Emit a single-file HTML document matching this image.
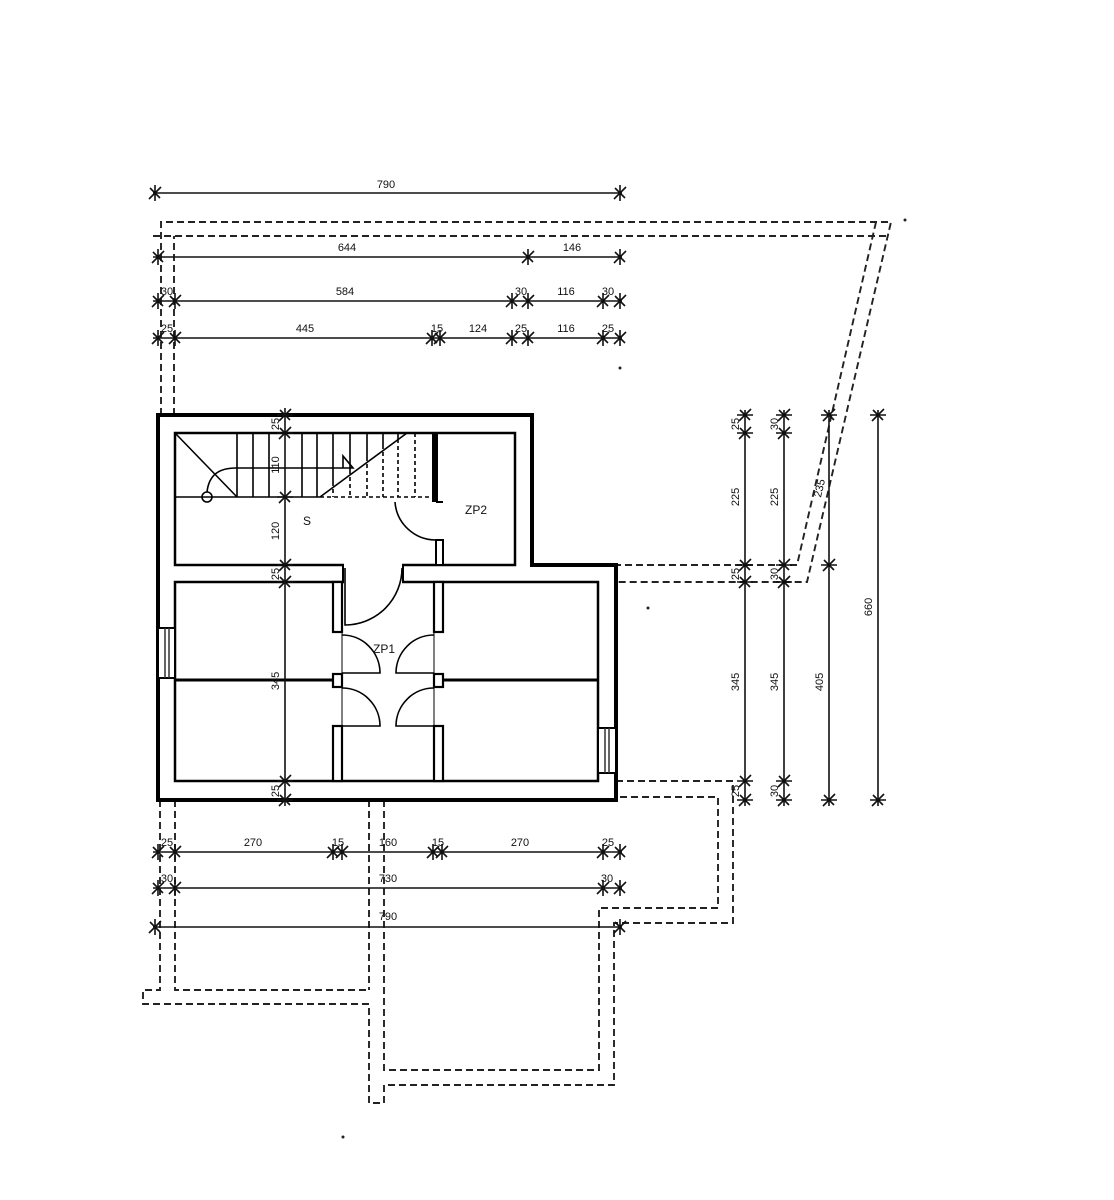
<!DOCTYPE html>
<html><head><meta charset="utf-8"><style>
html,body{margin:0;padding:0;background:#fff;}
svg{display:block;}
text{font-family:"Liberation Sans",sans-serif;font-size:11px;fill:#111;}
</style></head><body>
<svg width="1114" height="1200" viewBox="0 0 1114 1200" xmlns="http://www.w3.org/2000/svg">
<defs>
<symbol id="t" overflow="visible"><path d="M0,-8V8M-6,6L6,-6M-5,-5L5,5" stroke="#111" stroke-width="1.6" fill="none"/></symbol>
<symbol id="v" overflow="visible"><path d="M-8,0H8M-6,6L6,-6M-5,-5L5,5" stroke="#111" stroke-width="1.6" fill="none"/></symbol>
</defs>
<rect width="1114" height="1200" fill="#fff"/>

<!-- dashed outlines -->
<g fill="none" stroke="#222" stroke-width="1.9" stroke-dasharray="7,4">
<path d="M161,415V222H891L807,582H617"/>
<path d="M153,236H888"/>
<path d="M174,415V236"/>
<path d="M876,222L797,565H617"/>
<path d="M160,800V990H143V1004H369V1103H384V1085H614V923H733V781H617"/>
<path d="M175,800V990H369"/>
<path d="M384,800V1070H599V908H718V797H617"/>
<path d="M369,800V990"/>
</g>

<!-- dimension lines -->
<g stroke="#111" stroke-width="1.6" fill="none">
<path d="M153,193H622"/>
<path d="M153,257H622"/>
<path d="M153,301H622"/>
<path d="M153,338H622"/>
<path d="M153,852H622"/>
<path d="M153,888H622"/>
<path d="M153,927H622"/>
<path d="M745,410V806"/>
<path d="M784,410V806"/>
<path d="M829,410V806"/>
<path d="M878,410V806"/>
</g>
<g>
<use href="#t" x="155" y="193"/><use href="#t" x="620" y="193"/>
<use href="#t" x="158" y="257"/><use href="#t" x="528" y="257"/><use href="#t" x="620" y="257"/>
<use href="#t" x="158" y="301"/><use href="#t" x="175" y="301"/><use href="#t" x="512" y="301"/><use href="#t" x="528" y="301"/><use href="#t" x="603" y="301"/><use href="#t" x="620" y="301"/>
<use href="#t" x="158" y="338"/><use href="#t" x="175" y="338"/><use href="#t" x="432" y="338"/><use href="#t" x="440" y="338"/><use href="#t" x="512" y="338"/><use href="#t" x="528" y="338"/><use href="#t" x="603" y="338"/><use href="#t" x="620" y="338"/>
<use href="#t" x="158" y="852"/><use href="#t" x="175" y="852"/><use href="#t" x="333" y="852"/><use href="#t" x="342" y="852"/><use href="#t" x="433" y="852"/><use href="#t" x="442" y="852"/><use href="#t" x="603" y="852"/><use href="#t" x="620" y="852"/>
<use href="#t" x="158" y="888"/><use href="#t" x="175" y="888"/><use href="#t" x="603" y="888"/><use href="#t" x="620" y="888"/>
<use href="#t" x="155" y="927"/><use href="#t" x="620" y="927"/>
<use href="#v" x="745" y="415"/><use href="#v" x="745" y="433"/><use href="#v" x="745" y="565"/><use href="#v" x="745" y="582"/><use href="#v" x="745" y="781"/><use href="#v" x="745" y="800"/>
<use href="#v" x="784" y="415"/><use href="#v" x="784" y="433"/><use href="#v" x="784" y="565"/><use href="#v" x="784" y="582"/><use href="#v" x="784" y="781"/><use href="#v" x="784" y="800"/>
<use href="#v" x="829" y="415"/><use href="#v" x="829" y="565"/><use href="#v" x="829" y="800"/>
<use href="#v" x="878" y="415"/><use href="#v" x="878" y="800"/>
</g>

<!-- dimension labels -->
<g text-anchor="middle">
<text x="386" y="188">790</text>
<text x="347" y="251">644</text><text x="572" y="251">146</text>
<text x="167" y="295">30</text><text x="345" y="295">584</text><text x="521" y="295">30</text><text x="566" y="295">116</text><text x="608" y="295">30</text>
<text x="167" y="332">25</text><text x="305" y="332">445</text><text x="437" y="332">15</text><text x="478" y="332">124</text><text x="521" y="332">25</text><text x="566" y="332">116</text><text x="608" y="332">25</text>
<text x="167" y="846">25</text><text x="253" y="846">270</text><text x="338" y="846">15</text><text x="388" y="846">160</text><text x="438" y="846">15</text><text x="520" y="846">270</text><text x="608" y="846">25</text>
<text x="167" y="882">30</text><text x="388" y="882">730</text><text x="607" y="882">30</text>
<text x="388" y="920">790</text>
<text transform="translate(739,424) rotate(-90)">25</text>
<text transform="translate(739,497) rotate(-90)">225</text>
<text transform="translate(739,574) rotate(-90)">25</text>
<text transform="translate(739,682) rotate(-90)">345</text>
<text transform="translate(739,791) rotate(-90)">25</text>
<text transform="translate(778,424) rotate(-90)">30</text>
<text transform="translate(778,497) rotate(-90)">225</text>
<text transform="translate(778,574) rotate(-90)">30</text>
<text transform="translate(778,682) rotate(-90)">345</text>
<text transform="translate(778,791) rotate(-90)">30</text>
<text transform="translate(823,489) rotate(-77)">235</text>
<text transform="translate(823,682) rotate(-90)">405</text>
<text transform="translate(872,607) rotate(-90)">660</text>
</g>

<!-- building -->
<path d="M158,415H532V565H616V800H158Z" fill="#fff" stroke="#000" stroke-width="4"/>
<g fill="none" stroke="#000" stroke-width="2.5">
<rect x="175" y="433" width="340" height="132"/>
<rect x="175" y="582" width="423" height="199"/>
</g>
<rect x="344" y="563" width="58" height="21" fill="#fff"/>
<path d="M343,565V582M403,565V582" stroke="#000" stroke-width="2"/>
<rect x="432" y="433" width="5" height="69" fill="#000"/>
<path d="M437,433V502" stroke="#000" stroke-width="2"/>
<rect x="436" y="540" width="7" height="25" fill="#fff" stroke="#000" stroke-width="2"/>
<path d="M436,502H443" stroke="#000" stroke-width="2"/>
<path d="M175,680H333M443,680H598" stroke="#000" stroke-width="3"/>
<g fill="#fff" stroke="#000" stroke-width="2.2">
<rect x="333" y="582" width="9" height="50"/>
<rect x="333" y="674" width="9" height="13"/>
<rect x="333" y="726" width="9" height="55"/>
<rect x="434" y="582" width="9" height="50"/>
<rect x="434" y="674" width="9" height="13"/>
<rect x="434" y="726" width="9" height="55"/>
</g>
<path d="M342,582V781M434,582V781" stroke="#000" stroke-width="1"/>
<rect x="158" y="628" width="17" height="50" fill="#fff" stroke="#000" stroke-width="2"/>
<path d="M165,628V678M169,628V678" stroke="#333" stroke-width="1.5"/>
<rect x="598" y="728" width="18" height="45" fill="#fff" stroke="#000" stroke-width="2"/>
<path d="M605,728V773M609,728V773" stroke="#333" stroke-width="1.5"/>

<g fill="none" stroke="#000" stroke-width="1.6">
<path d="M395,502A41,41 0 0 0 436,540"/>
<path d="M402,568A57,57 0 0 1 345,625V568"/>
<path d="M342,635A38,38 0 0 1 380,673H342"/>
<path d="M342,688A38,38 0 0 1 380,726H342"/>
<path d="M434,635A38,38 0 0 0 396,673H434"/>
<path d="M434,688A38,38 0 0 0 396,726H434"/>
</g>

<g fill="none" stroke="#000" stroke-width="1.6">
<path d="M175,497H320"/>
<path d="M320,497L407,433"/>
<path d="M175,433L237,497"/>
<path d="M237,433V497M253,433V497M269,433V497M302,433V497M317,433V497"/>
<path d="M333,433V482M350,433V470M367,433V457M383,433V445M398,433V439"/>
<circle cx="207" cy="497" r="5"/>
<path d="M207,492C209,474 220,468 236,468H353L343,456V468"/>
</g>
<g fill="none" stroke="#000" stroke-width="1.6" stroke-dasharray="4,3">
<path d="M320,497H432"/>
<path d="M333,482V497M350,470V497M367,457V497M383,445V497M398,439V497M415,433V497"/>
</g>

<!-- interior vertical dimension line (on top) -->
<path d="M285,408V806" stroke="#111" stroke-width="1.6"/>
<use href="#v" x="285" y="415"/><use href="#v" x="285" y="433"/><use href="#v" x="285" y="497"/><use href="#v" x="285" y="565"/><use href="#v" x="285" y="582"/><use href="#v" x="285" y="781"/><use href="#v" x="285" y="800"/>
<g text-anchor="middle">
<text transform="translate(279,424) rotate(-90)">25</text>
<text transform="translate(279,465) rotate(-90)">110</text>
<text transform="translate(279,531) rotate(-90)">120</text>
<text transform="translate(279,574) rotate(-90)">25</text>
<text transform="translate(279,681) rotate(-90)">345</text>
<text transform="translate(279,791) rotate(-90)">25</text>
</g>

<text x="303" y="525" style="font-size:12px">S</text>
<text x="465" y="514" style="font-size:12px">ZP2</text>
<text x="373" y="653" style="font-size:12px">ZP1</text>

<g fill="#222"><circle cx="620" cy="368" r="1.5"/><circle cx="905" cy="220" r="1.5"/><circle cx="648" cy="608" r="1.5"/><circle cx="343" cy="1137" r="1.5"/></g>
</svg>
</body></html>
